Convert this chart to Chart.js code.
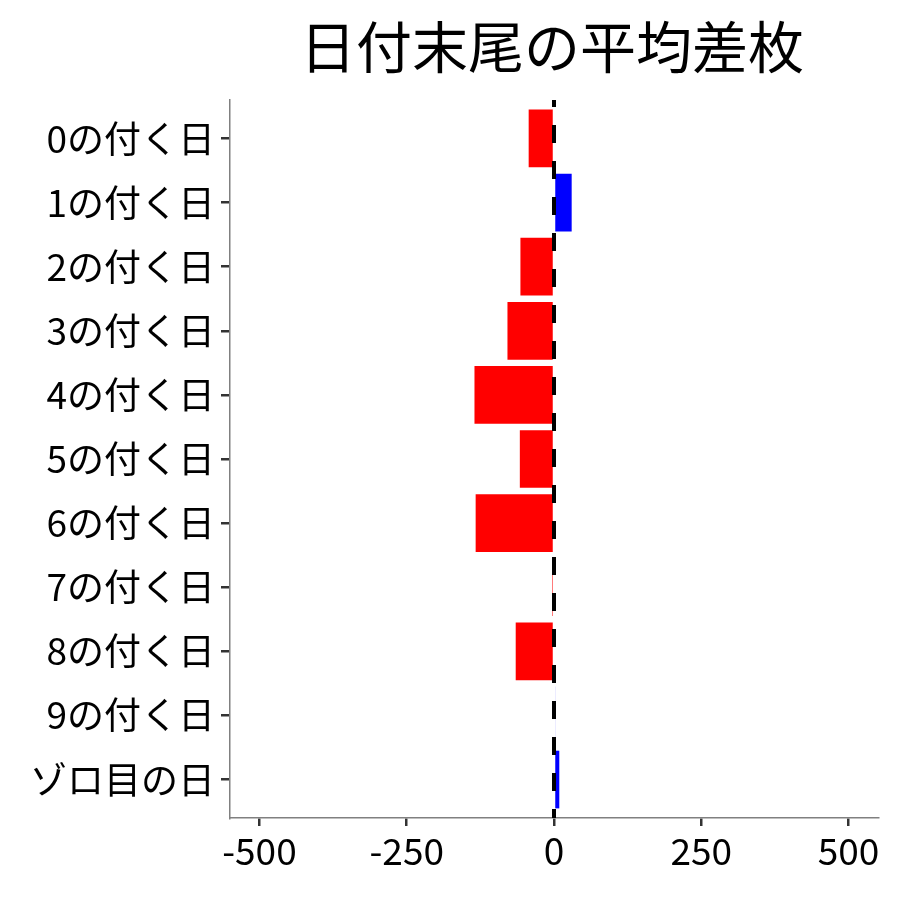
<!DOCTYPE html>
<html>
<head>
<meta charset="utf-8">
<script src="https://cdn.jsdelivr.net/npm/chart.js@4"></script>
<style>
  html, body { margin: 0; padding: 0; background: #fff; }
  #wrap { width: 900px; height: 900px; }
</style>
</head>
<body>
<div id="wrap"><canvas id="chart" width="900" height="900"></canvas></div>
<script>
// Daten
const CATEGORIES = ['0の付く日', '1の付く日', '2の付く日', '3の付く日', '4の付く日',
                    '5の付く日', '6の付く日', '7の付く日', '8の付く日', '9の付く日', 'ゾロ目の日'];
const AVG_DIFF   = [-43, 30, -57, -79, -135, -58, -133, -3, -65, 2, 9];
const X_TICKS    = [-500, -250, 0, 250, 500];
const TITLE      = '日付末尾の平均差枚';

const FONT = "'Noto Sans CJK JP', 'Noto Sans', sans-serif";

// Titel über der Plotfläche zentriert
const panelTitle = {
    id: 'panelTitle',
    afterDraw(chart) {
        const { ctx, chartArea } = chart;
        ctx.save();
        ctx.fillStyle = '#000';
        ctx.font = `56px ${FONT}`;
        ctx.textAlign = 'center';
        ctx.textBaseline = 'middle';
        ctx.fillText(TITLE, (chartArea.left + chartArea.right) / 2 - 2, 47);
        ctx.restore();
    }
};

// gestrichelte Nulllinie
const zeroLine = {
    id: 'zeroLine',
    afterDatasetsDraw(chart) {
        const { ctx, chartArea, scales } = chart;
        const x = scales.x.getPixelForValue(0);
        ctx.save();
        ctx.strokeStyle = '#000';
        ctx.lineWidth = 4;
        ctx.setLineDash([18, 18]);
        ctx.lineDashOffset = 11;
        ctx.beginPath();
        ctx.moveTo(x, chartArea.top);
        ctx.lineTo(x, chartArea.bottom);
        ctx.stroke();
        ctx.restore();
    }
};

new Chart(document.getElementById('chart').getContext('2d'), {
    type: 'bar',
    plugins: [zeroLine, panelTitle],
    data: {
        datasets: [{
            data: AVG_DIFF.map((v, i) => ({ x: v, y: i })),
            backgroundColor: AVG_DIFF.map(v => v < 0 ? '#ff0000' : '#0000ff'),
            borderWidth: 0,
            categoryPercentage: 1,
            barPercentage: 0.9,
        }]
    },
    options: {
        indexAxis: 'y',
        responsive: false,
        animation: false,
        layout: { padding: { left: 0, right: 22, top: 100, bottom: 0 } },
        scales: {
            x: {
                type: 'linear',
                min: -550,
                max: 550,
                afterBuildTicks(scale) { scale.ticks = X_TICKS.map(v => ({ value: v })); },
                afterFit(scale) { scale.height = 82; },
                border: { color: '#808080', width: 1.5 },
                grid: { drawOnChartArea: false, color: '#333', lineWidth: 2.5, tickLength: 8 },
                ticks: { color: '#000', padding: 3, font: { family: FONT, size: 37 } },
            },
            y: {
                type: 'linear',
                reverse: true,
                offset: false,
                min: -0.6,
                max: 10.6,
                afterBuildTicks(scale) { scale.ticks = CATEGORIES.map((c, i) => ({ value: i })); },
                afterFit(scale) { scale.width = 230; },
                border: { color: '#808080', width: 1.5 },
                grid: { drawOnChartArea: false, offset: false, color: '#333', lineWidth: 2.5, tickLength: 9 },
                ticks: {
                    color: '#000',
                    padding: 6,
                    font: { family: FONT, size: 37 },
                    callback: v => CATEGORIES[v],
                },
            }
        },
        plugins: {
            legend: { display: false },
            tooltip: { enabled: false },
            title: { display: false },
        }
    }
});
</script>
</body>
</html>
